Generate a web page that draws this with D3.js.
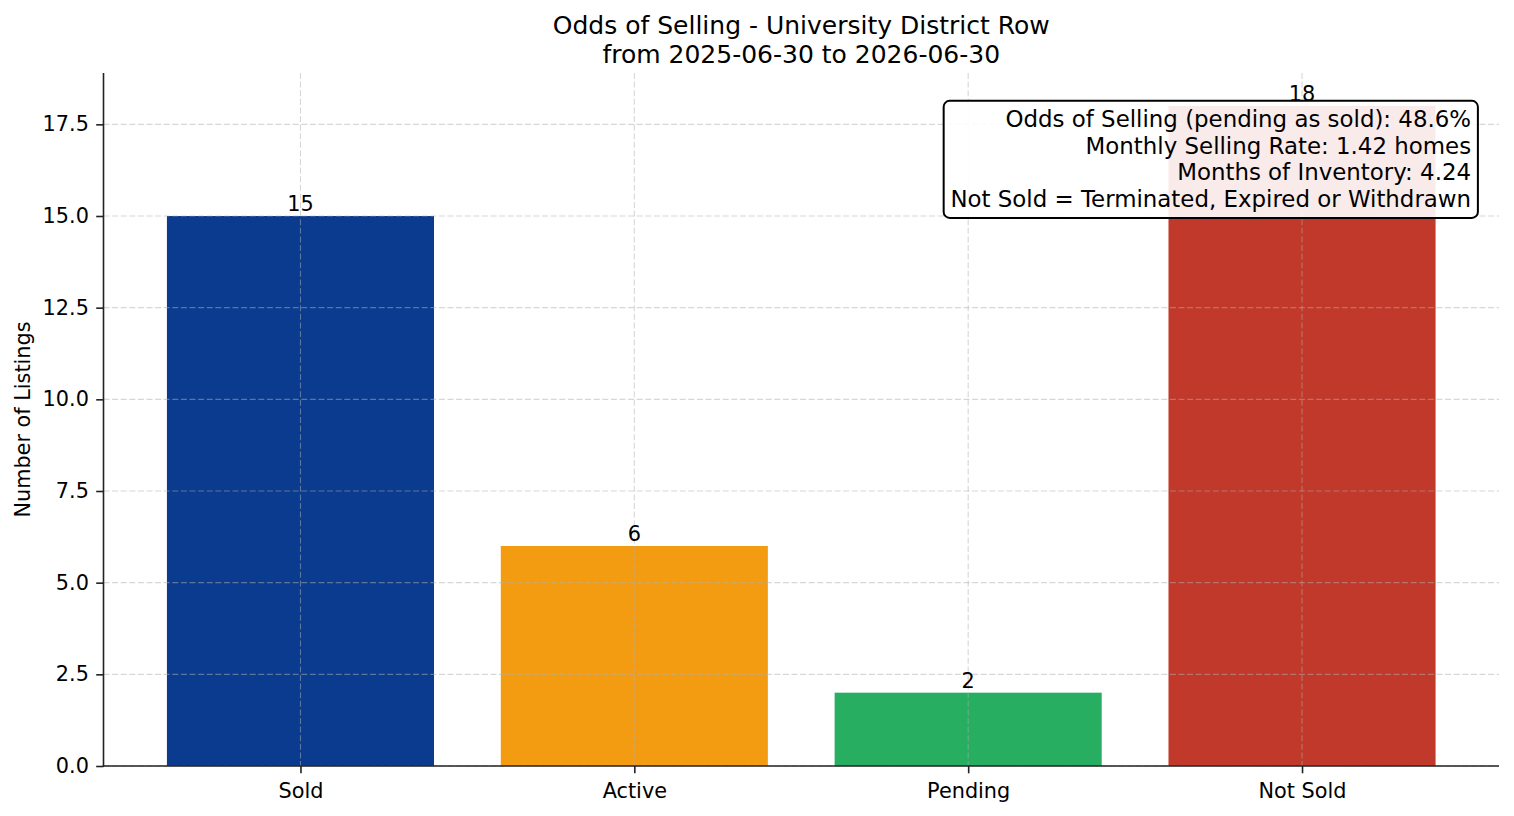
<!DOCTYPE html>
<html>
<head>
<meta charset="utf-8">
<script src="https://cdn.jsdelivr.net/npm/d3@7"></script>
<style>
  body { margin: 0; background: #fff; }
  svg text { font-family: "DejaVu Sans", sans-serif; fill: #000; }
</style>
</head>
<body>
<script>
(function(){

    // chart data
    var categories = ["Sold", "Active", "Pending", "Not Sold"];
    var counts = [15, 6, 2, 18];
    var barColors = ["#0b3b8e", "#f39c12", "#27ae60", "#c0392b"];
    var yTicks = [0, 2.5, 5, 7.5, 10, 12.5, 15, 17.5];
    var titleLines = ["Odds of Selling - University District Row", "from 2025-06-30 to 2026-06-30"];
    var infoLines = [
        "Odds of Selling (pending as sold): 48.6%",
        "Monthly Selling Rate: 1.42 homes",
        "Months of Inventory: 4.24",
        "Not Sold = Terminated, Expired or Withdrawn"
    ];

    window.onload = setChart();

    function setChart(){
        var width = 1514,
            height = 816;

        var left = 103.5, right = 1499, top = 73, bottom = 766;
        var tickFs = 20.8;

        var svg = d3.select("body")
            .append("svg")
            .attr("width", width)
            .attr("height", height);

        // matplotlib style: bar width .8, 5% margins
        var x = d3.scaleLinear()
            .domain([-0.59, categories.length - 1 + 0.59])
            .range([left, right]);

        var ymax = d3.max(counts) * 1.05;
        var y = d3.scaleLinear()
            .domain([0, ymax])
            .range([bottom, top]);

        var bw = x(0.8) - x(0);

        // bars
        svg.selectAll(".bar")
            .data(counts)
            .enter()
            .append("rect")
            .attr("class", "bar")
            .attr("x", function(d, i){ return x(i) - bw / 2; })
            .attr("y", function(d){ return y(d); })
            .attr("width", bw)
            .attr("height", function(d){ return y(0) - y(d); })
            .style("fill", function(d, i){ return barColors[i]; });

        // grid (drawn over the bars)
        var grid = svg.append("g")
            .style("stroke", "#b0b0b0")
            .style("stroke-opacity", 0.5)
            .style("stroke-width", 1.1)
            .style("stroke-dasharray", "6,2.6");

        grid.selectAll(".hgrid")
            .data(yTicks)
            .enter()
            .append("line")
            .attr("x1", left).attr("x2", right)
            .attr("y1", function(d){ return y(d); })
            .attr("y2", function(d){ return y(d); });

        grid.selectAll(".vgrid")
            .data(categories)
            .enter()
            .append("line")
            .attr("x1", function(d, i){ return x(i); })
            .attr("x2", function(d, i){ return x(i); })
            .attr("y1", top).attr("y2", bottom);

        // axes
        var yAxis = d3.axisLeft(y)
            .tickValues(yTicks)
            .tickFormat(d3.format(".1f"))
            .tickSize(7.3)
            .tickPadding(7.3);

        var xAxis = d3.axisBottom(x)
            .tickValues(d3.range(categories.length))
            .tickFormat(function(i){ return categories[i]; })
            .tickSize(7.3)
            .tickPadding(10);

        var gy = svg.append("g")
            .attr("transform", "translate(" + left + ",0)")
            .call(yAxis);

        var gx = svg.append("g")
            .attr("transform", "translate(0," + bottom + ")")
            .call(xAxis);

        [gx, gy].forEach(function(g){
            g.select(".domain").remove();
            g.selectAll(".tick line").style("stroke", "#222").style("stroke-width", 1.6);
            g.selectAll(".tick text")
                .style("font-size", tickFs + "px")
                .style("font-family", "DejaVu Sans")
                .style("fill", "#000");
        });

        // spines
        svg.append("line")
            .attr("x1", left).attr("x2", left)
            .attr("y1", top).attr("y2", bottom + 0.8)
            .style("stroke", "#222").style("stroke-width", 1.6);
        svg.append("line")
            .attr("x1", left - 0.8).attr("x2", right)
            .attr("y1", bottom).attr("y2", bottom)
            .style("stroke", "#222").style("stroke-width", 1.6);

        // bar value labels
        svg.selectAll(".blabel")
            .data(counts)
            .enter()
            .append("text")
            .attr("class", "blabel")
            .attr("x", function(d, i){ return x(i); })
            .attr("y", function(d){ return y(d) - 4.9; })
            .attr("text-anchor", "middle")
            .style("font-size", tickFs + "px")
            .text(function(d){ return d; });

        // y label
        svg.append("text")
            .attr("transform", "translate(30," + ((top + bottom) / 2) + ") rotate(-90)")
            .attr("text-anchor", "middle")
            .style("font-size", tickFs + "px")
            .text("Number of Listings");

        // title
        svg.selectAll(".title")
            .data(titleLines)
            .enter()
            .append("text")
            .attr("x", (left + right) / 2)
            .attr("y", function(d, i){ return 34 + i * 28.5; })
            .attr("text-anchor", "middle")
            .style("font-size", "25px")
            .text(function(d){ return d; });

        // info box
        var fs = 22.9, lh = 26.7;
        var tx = left + 0.98 * (right - left),
            ty = top + 0.05 * (bottom - top);
        var box = svg.append("g");
        var rect = box.append("rect");
        var info = box.append("g");
        info.selectAll("text")
            .data(infoLines)
            .enter()
            .append("text")
            .attr("x", tx)
            .attr("y", function(d, i){ return ty + fs * 0.84 + i * lh; })
            .attr("text-anchor", "end")
            .style("font-size", fs + "px")
            .text(function(d){ return d; });

        var bb = info.node().getBBox();
        var pad = 6.8;
        rect.attr("x", bb.x - pad)
            .attr("y", ty - pad)
            .attr("width", bb.width + 2 * pad)
            .attr("height", (infoLines.length - 1) * lh + fs * 1.02 + 2 * pad)
            .attr("rx", 6).attr("ry", 6)
            .style("fill", "#fff")
            .style("fill-opacity", 0.9)
            .style("stroke", "#000")
            .style("stroke-width", 2);
    }

})()
</script>
</body>
</html>
